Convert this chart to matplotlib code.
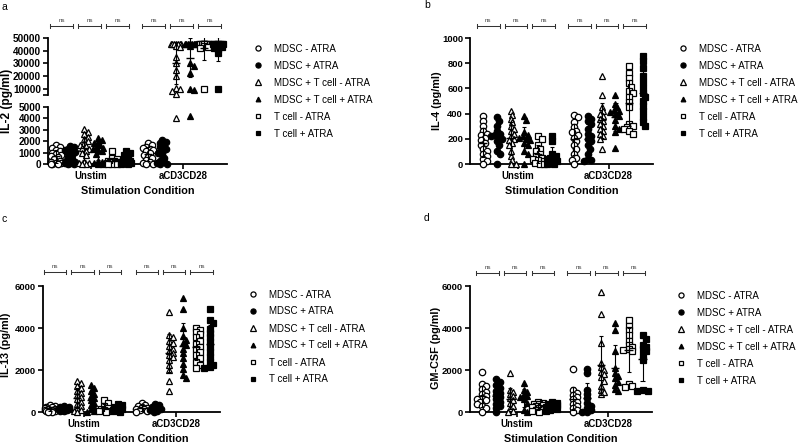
import numpy as np
import matplotlib
matplotlib.use("Agg")
import matplotlib.pyplot as plt
from matplotlib.lines import Line2D

plt.rcParams['font.family'] = ['Liberation Sans', 'DejaVu Sans']

groups = ["MDSC - ATRA", "MDSC + ATRA", "MDSC + T cell - ATRA",
          "MDSC + T cell + ATRA", "T cell - ATRA", "T cell + ATRA"]
conditions = ["Unstim", "aCD3CD28"]

# ---------------- IL-2 ----------------
il2_unstim = [
    [1650, 1500, 1400, 1250, 1100, 1000, 900, 800, 700, 600, 450, 300, 200, 100, 50, 0, 0, 0],
    [1600, 1450, 1300, 1200, 1150, 1050, 1000, 800, 600, 400, 300, 200, 100, 50, 0, 0],
    [3100, 2850, 2600, 2400, 2200, 2000, 1850, 1700, 1550, 1400, 1300, 1150, 1000, 800, 150, 100, 50, 0, 0],
    [2300, 2100, 1950, 1800, 1650, 1500, 1400, 1300, 1200, 1100, 900, 300, 150, 50, 0, 0],
    [1100, 500, 400, 300, 250, 200, 150, 100, 50, 0, 0, 0],
    [1100, 950, 800, 600, 400, 300, 200, 150, 100, 50, 0, 0],
]
il2_stim = [
    [1800, 1650, 1500, 1400, 1300, 1200, 1100, 950, 800, 650, 500, 350, 200, 100, 0, 0],
    [2100, 1950, 1800, 1600, 1450, 1300, 1150, 1000, 800, 500, 300, 150, 50, 0, 0],
    [45000, 45000, 45000, 45000, 45000, 45000, 45000, 44000, 43000, 35000, 30000, 25000,
     20000, 10500, 9500, 8000, 6000, 4000],
    [45000, 45000, 45000, 45000, 45000, 45000, 45000, 45000, 45000, 44000, 30000, 28000,
     22000, 10000, 9000, 4200],
    [45000, 45000, 45000, 45000, 45000, 45000, 45000, 45000, 45000, 45000, 44000, 43000, 42000, 10000],
    [45000, 45000, 45000, 45000, 45000, 45000, 45000, 45000, 44000, 43000, 42000, 41000, 38000, 10000],
]
# ---------------- IL-4 ----------------
il4_unstim = [
    [380, 340, 300, 260, 240, 230, 210, 190, 170, 150, 120, 100, 80, 60, 40, 20, 0],
    [370, 340, 300, 260, 240, 230, 220, 210, 200, 180, 150, 100, 80, 0],
    [420, 390, 360, 330, 300, 280, 260, 240, 220, 200, 190, 170, 150, 100, 60, 30, 0, 0],
    [380, 350, 250, 230, 220, 210, 200, 190, 170, 150, 100, 80, 0],
    [220, 200, 150, 120, 100, 80, 60, 50, 40, 30, 20, 10, 0, 0],
    [220, 180, 80, 60, 50, 40, 30, 20, 10, 0, 0],
]
il4_stim = [
    [390, 370, 330, 290, 260, 250, 230, 210, 180, 150, 120, 80, 50, 30, 0],
    [380, 360, 340, 320, 280, 240, 220, 200, 180, 150, 120, 80, 40, 30, 20],
    [700, 550, 450, 420, 400, 380, 360, 340, 320, 300, 280, 260, 240, 220, 200, 120],
    [550, 480, 450, 430, 420, 410, 400, 380, 350, 300, 280, 250, 130],
    [780, 720, 680, 640, 610, 580, 560, 530, 490, 450, 320, 300, 290, 280, 260, 240],
    [860, 820, 760, 700, 650, 600, 560, 530, 500, 460, 420, 370, 330, 300],
]
# ---------------- IL-13 ----------------
il13_unstim = [
    [350, 300, 260, 220, 190, 160, 130, 110, 90, 70, 50, 30, 10, 0],
    [300, 260, 220, 180, 150, 130, 110, 90, 70, 50],
    [1500, 1380, 1250, 1120, 1000, 900, 800, 700, 600, 500, 400, 300, 200, 100, 50, 0],
    [1300, 1150, 1000, 880, 760, 650, 550, 450, 350, 250, 150, 50, 0],
    [550, 420, 300, 200, 150, 100, 60, 30, 0],
    [400, 320, 250, 180, 120, 80, 40, 0],
]
il13_stim = [
    [420, 350, 300, 250, 200, 160, 120, 80, 40, 0],
    [380, 320, 260, 200, 150, 100, 60, 20],
    [4750, 3650, 3550, 3400, 3300, 3150, 3000, 2900, 2800, 2700, 2600, 2500, 2250, 2000, 1500, 1000],
    [5450, 4900, 4000, 3600, 3450, 3300, 3200, 3000, 2800, 2550, 2300, 2050, 1750, 1600],
    [4000, 3900, 3800, 3700, 3550, 3400, 3250, 3100, 3000, 2850, 2700, 2550, 2400, 2250, 2100],
    [4900, 4400, 4250, 3950, 3750, 3550, 3350, 3100, 2850, 2600, 2400, 2250, 2150, 2100],
]
# ---------------- GM-CSF ----------------
gmcsf_unstim = [
    [1900, 1350, 1250, 1100, 950, 850, 750, 650, 600, 550, 500, 400, 300, 200, 0],
    [1550, 1450, 1300, 1150, 1000, 900, 800, 700, 600, 500, 400, 300, 200, 0],
    [1850, 1050, 950, 850, 750, 650, 550, 450, 300, 200, 50, 0],
    [1400, 1050, 950, 850, 750, 700, 600, 450, 100, 0],
    [480, 440, 400, 360, 320, 280, 240, 200, 150, 100, 50, 0],
    [470, 430, 390, 350, 310, 270, 230, 190, 150, 100, 50],
]
gmcsf_stim = [
    [2050, 1050, 900, 800, 700, 600, 500, 400, 300, 200, 100, 0],
    [2050, 1850, 1050, 850, 650, 450, 300, 200, 100, 0, 0],
    [5700, 4650, 3300, 2350, 2150, 2000, 1900, 1800, 1650, 1500, 1250, 1050, 950, 850],
    [4250, 3900, 2900, 2100, 1850, 1700, 1600, 1450, 1300, 1100, 1000],
    [4400, 4100, 3900, 3650, 3400, 3200, 3100, 3000, 2950, 2900, 1350, 1250, 1200],
    [3650, 3500, 3200, 3100, 3000, 2900, 2700, 2500, 1050, 1000, 1000],
]

W, H = 800, 444
fig = plt.figure(figsize=(8, 4.44), dpi=100)

MARK = [dict(marker='o', mfc='white', ms=4.6),
        dict(marker='o', mfc='black', ms=4.6),
        dict(marker='^', mfc='white', ms=5.0),
        dict(marker='^', mfc='black', ms=4.2),
        dict(marker='s', mfc='white', ms=4.4),
        dict(marker='s', mfc='black', ms=4.4)]


def add_ax(x0, y0, x1, y1):
    return fig.add_axes([x0 / W, 1 - y1 / H, (x1 - x0) / W, (y1 - y0) / H])


def style(ax, bottom=True, ysize=6.8):
    for s in ['top', 'right']:
        ax.spines[s].set_visible(False)
    ax.spines['left'].set_linewidth(1.3)
    ax.spines['bottom'].set_linewidth(1.3)
    if not bottom:
        ax.spines['bottom'].set_visible(False)
    ax.tick_params(axis='both', direction='out', length=3.5, width=1.2, pad=1.5)
    ax.tick_params(axis='y', labelsize=ysize)
    ax.tick_params(axis='x', labelsize=6.9)
    ax.patch.set_alpha(0)
    for lab in ax.get_yticklabels() + ax.get_xticklabels():
        lab.set_fontweight('bold')


def swarm(y_disp, xpx_per_unit, d=3.8, step=1.8, maxw=5.6):
    n = len(y_disp)
    offs = np.zeros(n)
    order = np.argsort(-np.asarray(y_disp))
    placed = []
    ks = [0]
    for k in range(1, 12):
        ks += [k, -k]
    for i in order:
        best, bestd = 0.0, -1
        for k in ks:
            dx = k * step
            if abs(dx) > maxw:
                continue
            md = min([np.hypot(dx - px, y_disp[i] - py) for px, py in placed] + [1e9])
            if md >= d:
                best = dx
                bestd = md
                break
            if md > bestd:
                best, bestd = dx, md
        offs[i] = best
        placed.append((best, y_disp[i]))
    return offs / xpx_per_unit


def draw_panel(axes, unstim, stim, g2, bracket_y, label_xy, ylabel,
               ylabel_xy, ylabel_size, legend_xy):
    main = axes[-1][0]
    pos = list(np.arange(6)) + list(np.arange(6) + g2)
    allv = list(unstim) + list(stim)
    xppu = (main.transData.transform([[1, 0]]) - main.transData.transform([[0, 0]]))[0, 0]
    for gi, (xc, vals) in enumerate(zip(pos, allv)):
        vals = np.asarray(vals, float)
        mk = MARK[gi % 6]
        owner = []
        ydisp = np.zeros(len(vals))
        for j, v in enumerate(vals):
            for (ax, lo, hi) in axes:
                if lo <= v <= hi or (ax is main and v < lo):
                    owner.append(ax)
                    ydisp[j] = ax.transData.transform([[xc, v]])[0, 1]
                    break
        offs = swarm(ydisp, xppu)
        for (ax, lo, hi) in axes:
            sel = [j for j in range(len(vals)) if owner[j] is ax]
            if sel:
                ax.plot(xc + offs[sel], vals[sel], linestyle='none', marker=mk['marker'],
                        mfc=mk['mfc'], mec='black', mew=0.9, ms=mk['ms'],
                        clip_on=False, zorder=3)
        m = vals.mean()
        s = vals.std(ddof=1)
        for (ax, lo, hi) in axes:
            ax.hlines(m, xc - 0.3, xc + 0.3, colors='black', lw=1.0, zorder=4)
            ax.vlines(xc, max(m - s, 0), m + s, colors='black', lw=0.8, zorder=4)
            ax.hlines([max(m - s, 0), m + s], xc - 0.15, xc + 0.15, colors='black', lw=0.8, zorder=4)
    main.set_xticks([2.5, g2 + 2.5])
    main.set_xticklabels(conditions, fontweight='bold', fontsize=6.9)
    main.set_xlabel("Stimulation Condition", fontweight='bold', fontsize=7.8, labelpad=3.5)
    top = axes[0][0]
    bb = top.get_position()
    y0px = (1 - bb.y1) * H
    y1px = (1 - bb.y0) * H
    hpx = y1px - y0px
    fy = (y1px - bracket_y) / hpx
    tk = 2.0 / hpx
    tr = top.get_xaxis_transform()
    for a, b in [(0, 1), (2, 3), (4, 5), (6, 7), (8, 9), (10, 11)]:
        xa = pos[a] - 0.42
        xb = pos[b] + 0.2
        top.plot([xa, xb], [fy, fy], color='#333333', lw=0.75, transform=tr, clip_on=False)
        top.plot([xa, xa], [fy - tk, fy + tk], color='#333333', lw=0.75, transform=tr, clip_on=False)
        top.plot([xb, xb], [fy - tk, fy + tk], color='#333333', lw=0.75, transform=tr, clip_on=False)
        top.text((xa + xb) / 2, fy + 3.0 / hpx, "ns", transform=tr, ha='center', va='bottom',
                 fontsize=4.5, color='#444444')
    fig.text(label_xy[0] / W, 1 - label_xy[1] / H, label_xy[2], fontsize=7.5,
             ha='left', va='center')
    fig.text(ylabel_xy[0] / W, 1 - ylabel_xy[1] / H, ylabel, rotation=90, fontsize=ylabel_size,
             fontweight='bold', ha='center', va='center')
    handles = [Line2D([], [], linestyle='none', marker=m['marker'], mfc=m['mfc'], mec='black',
                      mew=0.9, ms=m['ms'] * 0.8) for m in MARK]
    fig.legend(handles, groups, loc='upper left',
               bbox_to_anchor=(legend_xy[0] / W, 1 - legend_xy[1] / H),
               bbox_transform=fig.transFigure, frameon=False, fontsize=7.0,
               handlelength=0.9, handletextpad=1.15, labelspacing=0.72,
               borderpad=0, borderaxespad=0, numpoints=1)


def make_std_ax(x0, x1, y0, y1, first, step, ymax, yticks, ysize=6.8):
    ax = add_ax(x0, y0, x1, y1)
    ax.set_xlim((x0 - first) / step, (x1 - first) / step)
    ax.set_ylim(0, ymax)
    ax.set_yticks(yticks)
    ax.set_yticklabels([str(t) for t in yticks])
    style(ax, ysize=ysize)
    return ax

# ---- panel a (broken axis) ----
a_step, a_first, a_x0, a_x1 = 14.0, 56.0, 48.0, 227.0
ax_a_top = add_ax(a_x0, 38, a_x1, 95)
ax_a_top.set_xlim((a_x0 - a_first) / a_step, (a_x1 - a_first) / a_step)
ax_a_top.set_ylim(5000, 50000)
ax_a_top.set_yticks([5000, 10000, 20000, 30000, 40000, 50000])
ax_a_top.set_yticklabels(['', '10000', '20000', '30000', '40000', '50000'])
ax_a_top.set_xticks([])
style(ax_a_top, bottom=False, ysize=7.2)
ax_a_bot = make_std_ax(a_x0, a_x1, 107, 164, a_first, a_step, 5000,
                       [0, 1000, 2000, 3000, 4000, 5000], ysize=7.2)
draw_panel([(ax_a_top, 5000, 50000), (ax_a_bot, 0, 5000)], il2_unstim, il2_stim, 6.57,
           26, (2, 7, 'a'), "IL-2 (pg/ml)", (7, 101), 8.6, (254, 43.5))

# ---- panel b ----
ax_b = make_std_ax(470, 653, 38, 164, 483, 13.8, 1000, [0, 200, 400, 600, 800, 1000])
draw_panel([(ax_b, 0, 1000)], il4_unstim, il4_stim, 6.6,
           26, (424, 5, 'b'), "IL-4 (pg/ml)", (437, 101), 7.8, (679, 43.5))

# ---- panel c ----
ax_c = make_std_ax(43, 220, 286, 412, 50, 13.6, 6000, [0, 2000, 4000, 6000])
draw_panel([(ax_c, 0, 6000)], il13_unstim, il13_stim, 6.75,
           272, (2, 219, 'c'), "IL-13 (pg/ml)", (6, 345), 7.8, (249, 289.5))

# ---- panel d ----
ax_d = make_std_ax(470, 652, 286, 412, 482, 13.9, 6000, [0, 2000, 4000, 6000])
draw_panel([(ax_d, 0, 6000)], gmcsf_unstim, gmcsf_stim, 6.55,
           273, (424, 218, 'd'), "GM-CSF (pg/ml)", (436, 348), 7.8, (677, 290.5))

fig.savefig("out.png", dpi=100)
